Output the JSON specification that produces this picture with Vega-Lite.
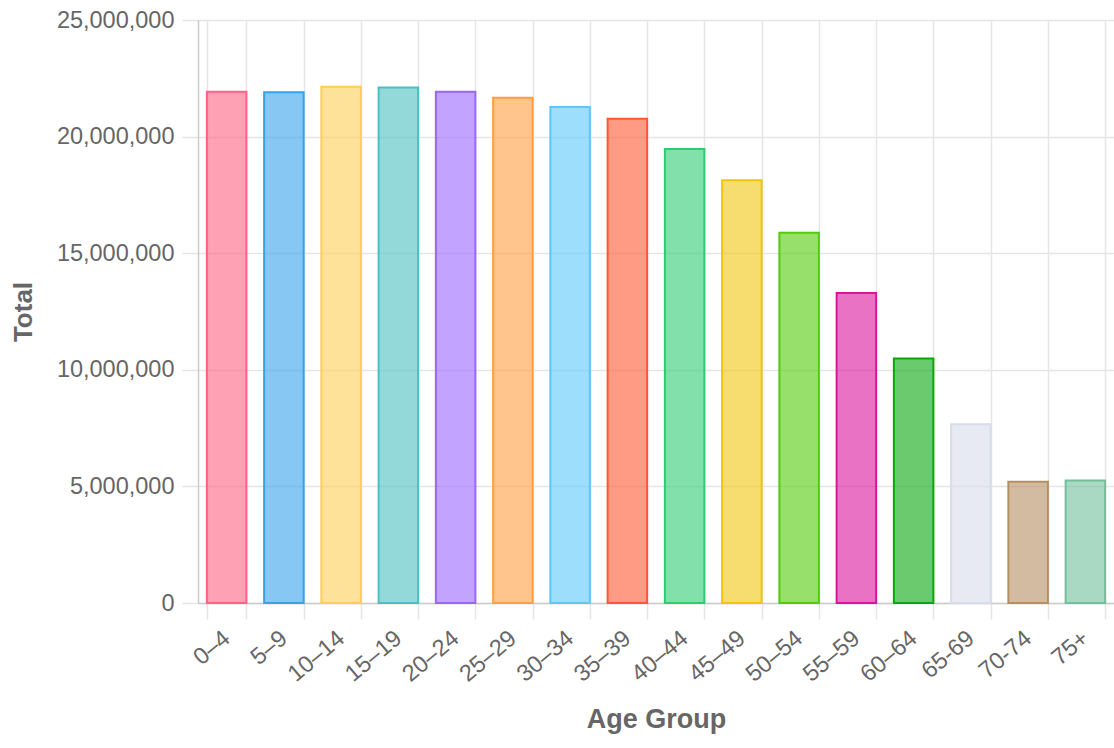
{
  "$schema": "https://vega.github.io/schema/vega-lite/v6.json",
  "autosize": {"type": "none"},
  "padding": {"left": 198, "top": 20, "right": 0, "bottom": 145},
  "width": 916,
  "height": 583,
  "background": "white",
  "view": {"stroke": null},
  "config": {
    "font": "Liberation Sans",
    "axis": {
      "labelColor": "#666666",
      "titleColor": "#666666",
      "labelFont": "Liberation Sans",
      "titleFont": "Liberation Sans",
      "labelFontSize": 23.5,
      "titleFontSize": 27,
      "titleFontWeight": "bold",
      "gridColor": "#e5e5e5",
      "gridWidth": 1.5,
      "tickColor": "#e5e5e5",
      "tickWidth": 1.5,
      "tickSize": 16,
      "domainColor": "#cccccc",
      "domainWidth": 1.5
    }
  },
  "data": {
    "values": [
      {"age": "0–4", "total": 21920000},
      {"age": "5–9", "total": 21900000},
      {"age": "10–14", "total": 22140000},
      {"age": "15–19", "total": 22110000},
      {"age": "20–24", "total": 21920000},
      {"age": "25–29", "total": 21670000},
      {"age": "30–34", "total": 21270000},
      {"age": "35–39", "total": 20770000},
      {"age": "40–44", "total": 19470000},
      {"age": "45–49", "total": 18130000},
      {"age": "50–54", "total": 15880000},
      {"age": "55–59", "total": 13290000},
      {"age": "60–64", "total": 10480000},
      {"age": "65-69", "total": 7660000},
      {"age": "70-74", "total": 5200000},
      {"age": "75+", "total": 5250000}
    ]
  },
  "mark": {"type": "bar", "fillOpacity": 0.6, "strokeWidth": 2},
  "encoding": {
    "x": {
      "field": "age",
      "type": "nominal",
      "sort": null,
      "title": "Age Group",
      "scale": {"paddingInner": 0.31, "paddingOuter": 0.155},
      "axis": {
        "tickBand": "extent",
        "grid": true,
        "labelAngle": -40,
        "labelAlign": "right",
        "labelBaseline": "middle",
        "labelPadding": 16,
        "titleX": 458,
        "titleY": 124,
        "titleAlign": "center",
        "titleBaseline": "alphabetic"
      }
    },
    "y": {
      "field": "total",
      "type": "quantitative",
      "title": "Total",
      "scale": {"domain": [0, 25000000], "nice": false},
      "axis": {
        "values": [0, 5000000, 10000000, 15000000, 20000000, 25000000],
        "format": ",d",
        "labelPadding": 8,
        "titleFontSize": 26,
        "titleX": -175,
        "titleY": 291.5,
        "titleAngle": -90,
        "titleAlign": "center",
        "titleBaseline": "middle"
      }
    },
    "fill": {
      "field": "age",
      "type": "nominal",
      "legend": null,
      "sort": null,
      "scale": {
        "domain": ["0–4", "5–9", "10–14", "15–19", "20–24", "25–29", "30–34", "35–39", "40–44", "45–49", "50–54", "55–59", "60–64", "65-69", "70-74", "75+"],
        "range": ["#FF6384", "#36A2EB", "#FFCE56", "#4BC0C0", "#9966FF", "#FF9F40", "#5AC8FA", "#FF5733", "#2ECC71", "#F1C40F", "#52CB0A", "#DC149D", "#08A70D", "#D7DCEB", "#B68E64", "#70C09B"]
      }
    },
    "stroke": {
      "field": "age",
      "type": "nominal",
      "legend": null,
      "sort": null,
      "scale": {
        "domain": ["0–4", "5–9", "10–14", "15–19", "20–24", "25–29", "30–34", "35–39", "40–44", "45–49", "50–54", "55–59", "60–64", "65-69", "70-74", "75+"],
        "range": ["#FF6384", "#36A2EB", "#FFCE56", "#4BC0C0", "#9966FF", "#FF9F40", "#5AC8FA", "#FF5733", "#2ECC71", "#F1C40F", "#52CB0A", "#DC149D", "#08A70D", "#D7DCEB", "#B68E64", "#70C09B"]
      }
    }
  }
}
